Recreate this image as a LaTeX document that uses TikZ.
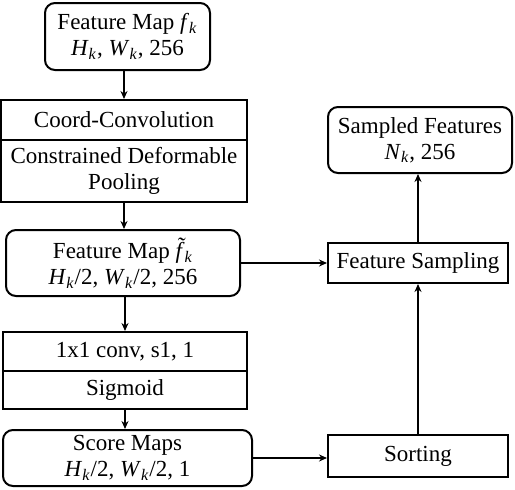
\documentclass[tikz,border=0pt]{standalone}
\usepackage{fontspec}
\setmainfont{Liberation Serif}
\usetikzlibrary{arrows.meta,positioning}
\newcommand{\ivar}[2]{\textit{#1}\textsubscript{\textit{#2}}}

\begin{document}
\begin{tikzpicture}[
    x=0.5pt, y=-0.5pt,
    block/.style={draw=black, line width=1pt, inner sep=0pt, align=center, font=\fontsize{11.5}{13}\selectfont},
    mapbox/.style={block, rounded corners=5pt},
    arr/.style={line width=0.7pt, -{Stealth[length=4pt,width=3.5pt]}},
]
\useasboundingbox (0,0) rectangle (515,489);
\node[mapbox, minimum width=82.5pt, minimum height=33.5pt] (fmap) at (127.5,36.5) {Feature Map \ivar{f}{k}\\ \ivar{H}{k}, \ivar{W}{k}, 256};
\node[block, minimum width=123pt, minimum height=20pt] (coord) at (124,120) {Coord-Convolution};
\node[block, minimum width=123pt, minimum height=31pt] (pool) at (124,171) {Constrained Deformable\\ Pooling};
\node[mapbox, minimum width=117pt, minimum height=33pt] (fmapt) at (123,263) {Feature Map \textit{\accent"02DC f}\textsubscript{\textit{k}}\\ \ivar{H}{k}/2, \ivar{W}{k}/2, 256};
\node[block, minimum width=122pt, minimum height=19.5pt] (conv) at (125,351.5) {1x1 conv, s1, 1};
\node[block, minimum width=122pt, minimum height=19pt] (sigm) at (125,390) {Sigmoid};
\node[mapbox, minimum width=124.5pt, minimum height=28pt] (score) at (127.5,458) {Score Maps\\ \ivar{H}{k}/2, \ivar{W}{k}/2, 1};
\node[mapbox, minimum width=92pt, minimum height=33pt] (sampled) at (420,140) {Sampled Features\\ \ivar{N}{k},\ 256};
\node[block, minimum width=90pt, minimum height=20pt] (fsamp) at (418,263) {Feature Sampling};
\node[block, minimum width=90pt, minimum height=21pt] (sort) at (418,456) {Sorting};
\draw[arr] (fmap.south -| coord.north) -- (coord.north);
\draw[arr] (pool.south) -- (pool.south |- fmapt.north);
\draw[arr] (fmapt.south -| conv.north) -- (conv.north);
\draw[arr] (sigm.south) -- (sigm.south |- score.north);
\draw[arr] (fmapt.east) -- (fmapt.east -| fsamp.west);
\draw[arr] (score.east) -- (score.east -| sort.west);
\draw[arr] (sort.north) -- (fsamp.south);
\draw[arr] (fsamp.north) -- (fsamp.north |- sampled.south);
\end{tikzpicture}
\end{document}
